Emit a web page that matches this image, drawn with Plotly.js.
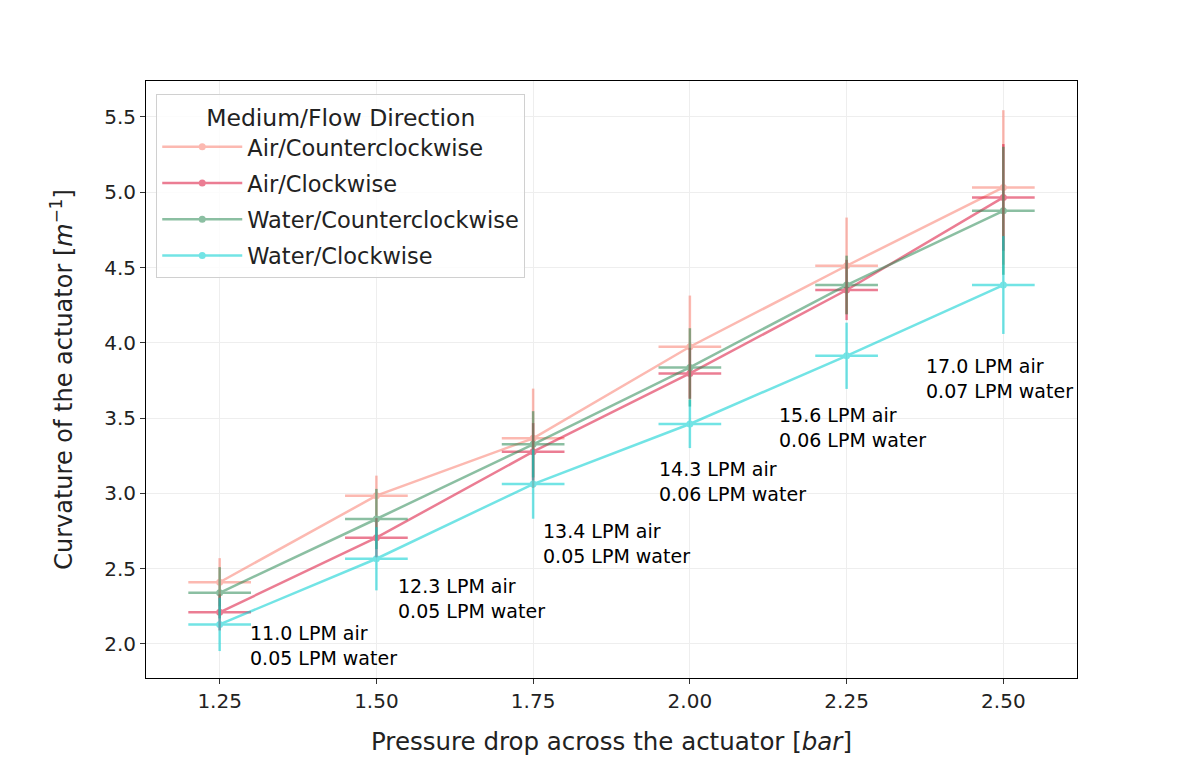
<!DOCTYPE html>
<html>
<head>
<meta charset="utf-8">
<script src="https://cdn.plot.ly/plotly-3.0.1.min.js"></script>
<style>html,body{margin:0;padding:0;background:#fff;}#chart{width:1191px;height:757px;}</style>
</head>
<body>
<div id="chart"></div>
<script>
const pressure = [1.25, 1.5, 1.75, 2.0, 2.25, 2.5];
const pressureTicks = ["1.25", "1.50", "1.75", "2.00", "2.25", "2.50"];
const pressureErr = 0.05;

const airCCW = [2.41, 2.985, 3.366, 3.974, 4.512, 5.032];
const airCCWErr = [0.16, 0.133, 0.33, 0.34, 0.32, 0.513];
const airCW = [2.21, 2.706, 3.277, 3.797, 4.351, 4.966];
const airCWErr = [0.12, 0.13, 0.19, 0.17, 0.2, 0.354];
const waterCCW = [2.34, 2.83, 3.326, 3.837, 4.384, 4.877];
const waterCCWErr = [0.17, 0.2, 0.22, 0.26, 0.195, 0.425];
const waterCW = [2.13, 2.566, 3.062, 3.461, 3.914, 4.384];
const waterCWErr = [0.177, 0.21, 0.23, 0.16, 0.22, 0.325];

const seriesNames = ["Air/Counterclockwise", "Air/Clockwise", "Water/Counterclockwise", "Water/Clockwise"];
const flowLabels = [
  "11.0 LPM air<br>0.05 LPM water",
  "12.3 LPM air<br>0.05 LPM water",
  "13.4 LPM air<br>0.05 LPM water",
  "14.3 LPM air<br>0.06 LPM water",
  "15.6 LPM air<br>0.06 LPM water",
  "17.0 LPM air<br>0.07 LPM water"
];

const colors = ["#FA8072", "#DC143C", "#2E8B57", "#00CED1"];
const seriesY = [airCCW, airCW, waterCCW, waterCW];
const seriesErr = [airCCWErr, airCWErr, waterCCWErr, waterCWErr];

const traces = seriesY.map((ys, i) => ({
  type: "scatter",
  mode: "lines+markers",
  name: seriesNames[i],
  legendgroup: "g" + i,
  x: pressure,
  y: ys,
  opacity: 0.55,
  line: {color: colors[i], width: 2.5},
  marker: {color: colors[i], size: 7},
  error_y: {type: "data", array: seriesErr[i], visible: true, color: colors[i], thickness: 2.5, width: 0},
  error_x: {type: "constant", value: pressureErr, visible: true, color: colors[i], thickness: 2.5, width: 0}
}));

// label placement (data coordinates of the text block's top-left corner)
const labelPos = [[1.2955, 2.16], [1.5315, 2.47], [1.7625, 2.84], [1.9475, 3.25], [2.1385, 3.605], [2.3735, 3.935]];
const annotations = flowLabels.map((t, i) => ({
  x: labelPos[i][0], y: labelPos[i][1], xref: "x", yref: "y",
  text: t, showarrow: false, xanchor: "left", yanchor: "top", align: "left",
  font: {family: "DejaVu Sans", size: 19, color: "#000"}
}));

const layout = {
  width: 1191, height: 757,
  margin: {l: 146, r: 114, t: 81, b: 79},
  paper_bgcolor: "#fff", plot_bgcolor: "#fff",
  font: {family: "DejaVu Sans", color: "#222"},
  showlegend: true,
  legend: {
    x: 0.011, y: 0.978, xanchor: "left", yanchor: "top",
    bgcolor: "rgba(255,255,255,0.8)", bordercolor: "#d0d0d0", borderwidth: 1,
    font: {family: "DejaVu Sans", size: 22.5, color: "#222"},
    title: {text: "Medium/Flow Direction", side: "top center", font: {family: "DejaVu Sans", size: 23.5, color: "#222"}},
    itemwidth: 80, traceorder: "grouped", tracegroupgap: 4
  },
  xaxis: {
    range: [1.1325, 2.6175],
    tickvals: pressure, ticktext: pressureTicks,
    showgrid: true, gridcolor: "#eeeeee", gridwidth: 1,
    zeroline: false, showline: true, mirror: true, linecolor: "#000", linewidth: 1,
    ticks: "outside", ticklen: 5, tickcolor: "#333",
    tickfont: {family: "DejaVu Sans", size: 20, color: "#222"},
    title: {text: "Pressure drop across the actuator [<i>bar</i>]", font: {family: "DejaVu Sans", size: 24.5, color: "#222"}, standoff: 20}
  },
  yaxis: {
    range: [1.774, 5.739],
    tickvals: [2.0, 2.5, 3.0, 3.5, 4.0, 4.5, 5.0, 5.5], tickformat: ".1f",
    showgrid: true, gridcolor: "#eeeeee", gridwidth: 1,
    zeroline: false, showline: true, mirror: true, linecolor: "#000", linewidth: 1,
    ticks: "outside", ticklen: 5, tickcolor: "#333",
    tickfont: {family: "DejaVu Sans", size: 20, color: "#222"},
    title: {text: "Curvature of the actuator [<i>m</i><sup>−1</sup>]", font: {family: "DejaVu Sans", size: 24, color: "#222"}, standoff: 24}
  },
  annotations: annotations
};

Plotly.newPlot("chart", traces, layout, {displayModeBar: false, staticPlot: true});
</script>
</body>
</html>
